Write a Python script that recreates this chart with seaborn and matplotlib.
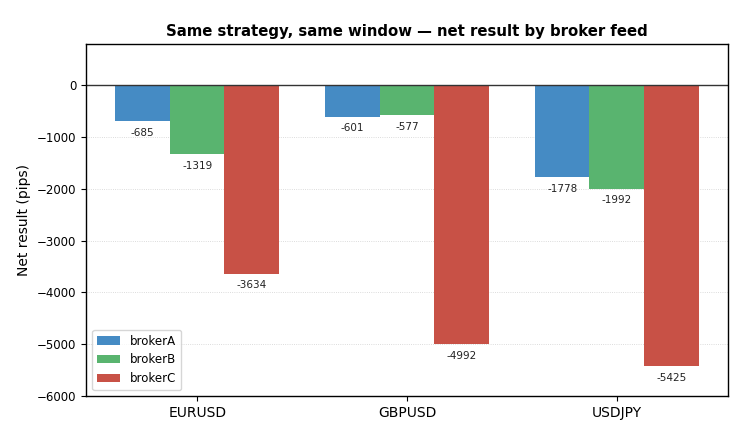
import matplotlib
matplotlib.use("Agg")
import matplotlib.pyplot as plt
import seaborn as sns
import pandas as pd

# net result per pair, one list per broker feed
pairs = ["EURUSD", "GBPUSD", "USDJPY"]
brokers = ["brokerA", "brokerB", "brokerC"]
broker_a = [-685, -601, -1778]
broker_b = [-1319, -577, -1992]
broker_c = [-3634, -4992, -5425]
colors = ["#458bc4", "#59b46f", "#c85146"]

rows = []
for name, vals in zip(brokers, [broker_a, broker_b, broker_c]):
    for p, v in zip(pairs, vals):
        rows.append({"pair": p, "broker": name, "pips": v})
df = pd.DataFrame(rows)

sns.set_style("white")
plt.rcParams['font.family'] = ['DejaVu Sans']
plt.rcParams['text.color'] = 'black'
plt.rcParams['axes.labelcolor'] = 'black'
plt.rcParams['xtick.color'] = 'black'
plt.rcParams['ytick.color'] = 'black'
fig, ax = plt.subplots(figsize=(7.5, 4.4), dpi=100)
sns.barplot(data=df, x="pair", y="pips", hue="broker", order=pairs,
            hue_order=brokers, palette=colors, width=0.78, saturation=1,
            linewidth=0, ax=ax, errorbar=None)

for cont in ax.containers:
    ax.bar_label(cont, fmt="%d", padding=5, fontsize=7.5, color="#222222")

ax.axhline(0, color="#333333", linewidth=1)
ax.grid(axis="y", linestyle=":", color="#d0d0d0", linewidth=0.6)
ax.set_axisbelow(True)
ax.set_ylim(-6000, 800)
ax.set_xlim(-0.529, 2.528)
ax.set_yticks([-6000, -5000, -4000, -3000, -2000, -1000, 0])
for s in ax.spines.values():
    s.set_color("black")
    s.set_linewidth(1)
ax.tick_params(axis="y", left=True, length=3.5, labelsize=8.5)
ax.tick_params(axis="x", bottom=True, length=3.5, labelsize=10)
ax.set_xlabel("")
ax.set_ylabel("Net result (pips)", fontsize=10)
ax.set_title("Same strategy, same window \u2014 net result by broker feed",
             fontsize=10.7, fontweight="bold")
ax.legend(loc="lower left", fontsize=8.5, frameon=True)

plt.subplots_adjust(left=0.115, right=0.97, top=0.9, bottom=0.1)
plt.savefig("out.png", dpi=100)
